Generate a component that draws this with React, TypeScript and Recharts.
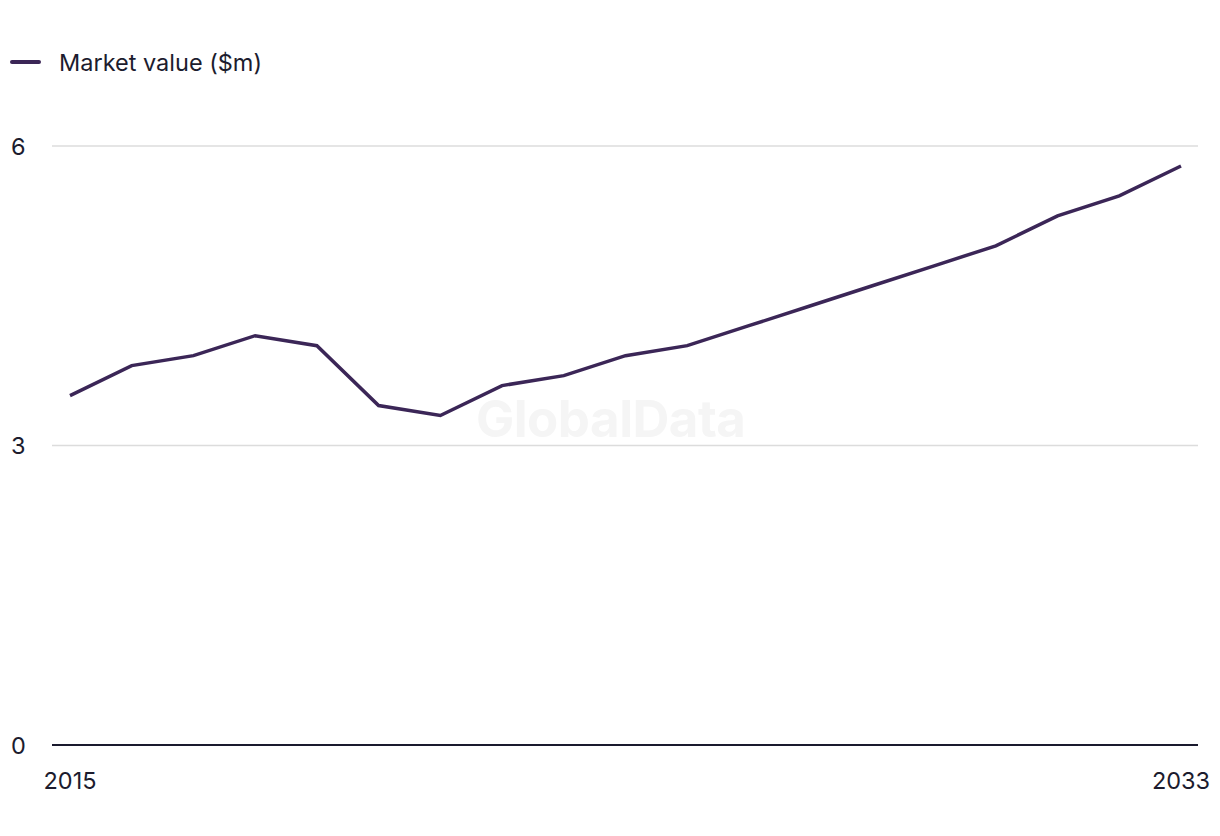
import React from "react";
import { LineChart, Line, XAxis, YAxis, CartesianGrid, Legend } from "recharts";

const years = [2015, 2016, 2017, 2018, 2019, 2020, 2021, 2022, 2023, 2024, 2025, 2026, 2027, 2028, 2029, 2030, 2031, 2032, 2033];
const marketValue = [3.5, 3.8, 3.9, 4.1, 4.0, 3.4, 3.3, 3.6, 3.7, 3.9, 4.0, 4.2, 4.4, 4.6, 4.8, 5.0, 5.3, 5.5, 5.8];
const xTicks = [2015, 2033];
const yTicks = [0, 3, 6];

const data = years.map((y, i) => ({ year: y, value: marketValue[i] }));

const FONT = "Inter, 'Noto Sans', sans-serif";
const TEXT = "#1c1c2e";
const LINE = "#3b2657";
const FS = 23.5;

function XTick({ x, y, payload }: any) {
  return (
    <text x={x} y={y + 42} textAnchor="middle" fontSize={FS} fill={TEXT} fontFamily={FONT}>
      {payload.value}
    </text>
  );
}

function YTick({ y, payload }: any) {
  return (
    <text x={11} y={y + 8.5} textAnchor="start" fontSize={FS} fill={TEXT} fontFamily={FONT}>
      {payload.value}
    </text>
  );
}

function LegendContent() {
  return (
    <div style={{ display: "flex", alignItems: "center", fontFamily: FONT, fontSize: FS, color: TEXT, height: 28 }}>
      <span style={{ display: "inline-block", width: 31, height: 4, borderRadius: 2, background: LINE, marginLeft: 10, marginRight: 18 }} />
      <span>Market value ($m)</span>
    </div>
  );
}

export default function App() {
  return (
    <div style={{ position: "absolute", left: 0, top: 0, width: 1220, height: 836, background: "#fff" }}>
      <div
        style={{
          position: "absolute", left: 476, top: 388, fontFamily: FONT, fontWeight: 700,
          fontSize: 51, color: "#f5f5f5", letterSpacing: -0.5,
        }}
      >
        GlobalData
      </div>
      <LineChart width={1220} height={836} data={data} margin={{ top: 118, right: 22, left: 0, bottom: 51 }}>
        <CartesianGrid vertical={false} stroke="#dcdcdc" strokeWidth={1.5} />
        <Legend
          verticalAlign="top"
          align="left"
          content={<LegendContent />}
          wrapperStyle={{ top: 48, left: 0 }}
        />
        <XAxis
          dataKey="year"
          type="number"
          domain={[2015, 2033]}
          ticks={xTicks}
          padding={{ left: 18, right: 17 }}
          tick={<XTick />}
          tickLine={false}
          tickSize={0}
          height={40}
          axisLine={{ stroke: "#1a1a2e", strokeWidth: 2 }}
        />
        <YAxis
          domain={[0, 6]}
          ticks={yTicks}
          width={52}
          tick={<YTick />}
          tickLine={false}
          axisLine={false}
        />
        <Line
          type="linear"
          dataKey="value"
          stroke={LINE}
          strokeWidth={3.5}
          dot={false}
          isAnimationActive={false}
        />
      </LineChart>
    </div>
  );
}
